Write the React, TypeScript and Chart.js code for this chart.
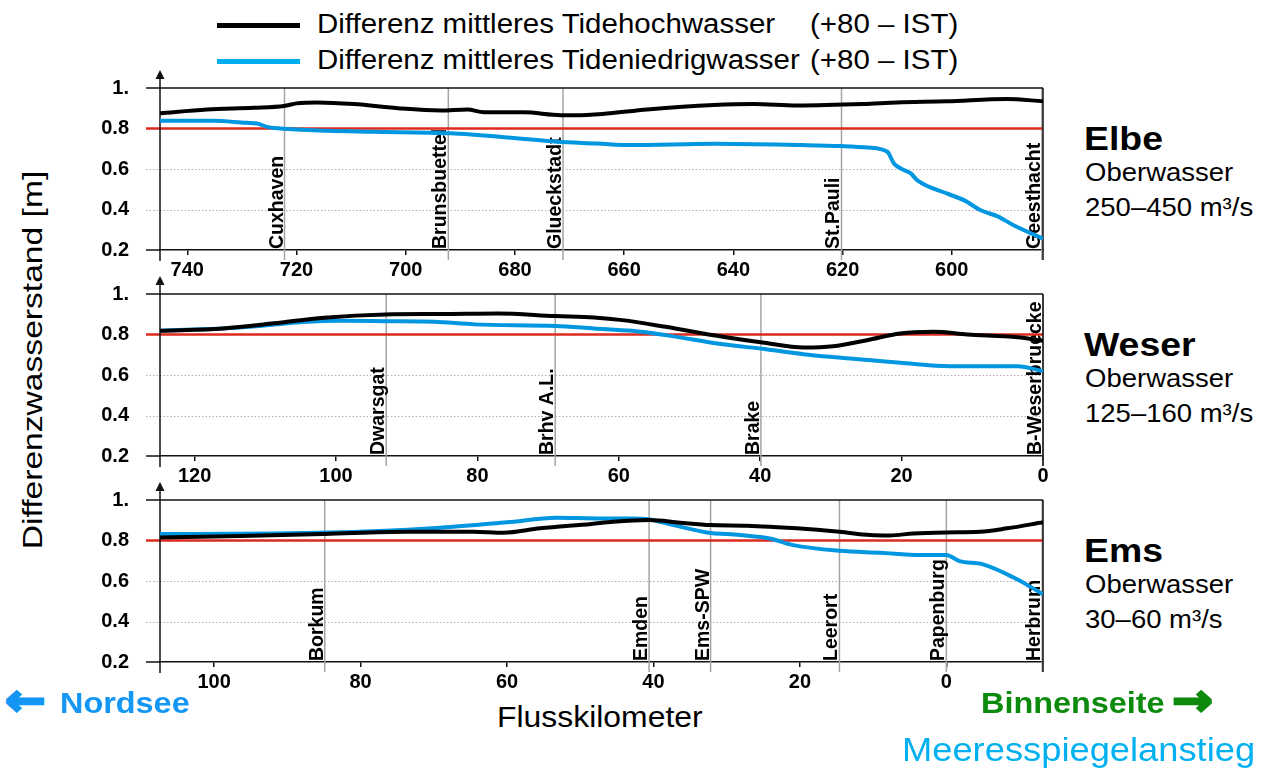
import React, { useEffect, useRef } from 'react';
import { Chart, registerables } from 'chart.js';

Chart.register(...registerables);

const FONT = '"Liberation Sans", Arial, Helvetica, sans-serif';
const ARROW_FONT = '"DejaVu Sans", "Liberation Sans", sans-serif';
const BLACK = '#000000';
const BLUE = '#0096e0';
const LEGEND_BLUE = '#00aeef';
const RED = '#dc2a1e';
const GRID_GREY = '#b0b0b0';
const STATION_GREY = '#a4a4a4';
const AXIS = '#111111';

// shared y axis: water level difference [m]
const yTicks = [0.2, 0.4, 0.6, 0.8, 1.0];
const dottedLevels = [0.4, 0.6];
const referenceLevel = 0.8;

// ---- Elbe (km 745 .. 583) ----
const elbeRange = [583.3, 745];
const elbeTicks = [740, 720, 700, 680, 660, 640, 620, 600];
const elbeStations = ['Cuxhaven', 'Brunsbuettel', 'Glueckstadt', 'St.Pauli', 'Geesthacht'];
const elbeStationKm = [722.2, 692.2, 671.2, 620.2, 583.5];
const elbeThwKm = [745, 736.4, 727.8, 722.3, 720, 716.2, 709.5, 701, 693.6, 688.7, 685.7, 678.4, 671.6, 669, 664, 655.8, 643.6, 636.3, 628.4, 616.2, 610, 600.9, 589.9, 583.3];
const elbeThw = [0.875, 0.894, 0.902, 0.911, 0.924, 0.929, 0.921, 0.899, 0.889, 0.894, 0.880, 0.880, 0.866, 0.866, 0.872, 0.894, 0.916, 0.921, 0.914, 0.921, 0.929, 0.934, 0.946, 0.934];
const elbeTnwKm = [745, 735.2, 729.1, 727.2, 725.4, 723, 714.4, 705.9, 691.8, 681.4, 672.3, 665, 658.8, 643.6, 627.3, 620.3, 615.4, 611.8, 610.6, 609.3, 607.5, 606.3, 600.8, 597.7, 594.7, 591.6, 588.6, 583.3];
const elbeTnw = [0.838, 0.838, 0.828, 0.825, 0.808, 0.800, 0.789, 0.784, 0.776, 0.756, 0.734, 0.726, 0.718, 0.725, 0.718, 0.713, 0.706, 0.685, 0.627, 0.602, 0.578, 0.544, 0.478, 0.445, 0.396, 0.366, 0.321, 0.256];

// ---- Weser (km 125 .. 0) ----
const weserRange = [0, 124.9];
const weserTicks = [120, 100, 80, 60, 40, 20, 0];
const weserStations = ['Dwarsgat', 'Brhv A.L.', 'Brake', 'B-Weserbruecke'];
const weserStationKm = [92.9, 69, 39.9, 0];
const weserThwKm = [124.9, 115.9, 108.8, 101.7, 93, 85.1, 77.1, 69, 63.5, 59.5, 53.4, 45.3, 39.4, 33.9, 29.7, 24.9, 20.2, 15.5, 10.7, 3.6, 0];
const weserThw = [0.818, 0.830, 0.855, 0.883, 0.899, 0.901, 0.904, 0.891, 0.884, 0.871, 0.838, 0.789, 0.759, 0.736, 0.742, 0.772, 0.805, 0.813, 0.800, 0.786, 0.769];
const weserTnwKm = [124.9, 113.6, 104.1, 99.3, 93, 86.1, 80.4, 69, 63.5, 58.1, 53.4, 45.3, 39.4, 33.9, 27.3, 20.2, 13.1, 3.6, 0];
const weserTnw = [0.818, 0.835, 0.863, 0.868, 0.866, 0.863, 0.850, 0.842, 0.830, 0.818, 0.797, 0.752, 0.728, 0.703, 0.681, 0.660, 0.643, 0.643, 0.619];

// ---- Ems (km 107 .. -13) ----
const emsRange = [-13.2, 107.4];
const emsTicks = [100, 80, 60, 40, 20, 0];
const emsStations = ['Borkum', 'Emden', 'Ems-SPW', 'Leerort', 'Papenburg', 'Herbrum'];
const emsStationKm = [84.9, 40.6, 32.2, 14.6, 0, -13.1];
const emsThwKm = [107.4, 96.4, 84.9, 73.7, 64.6, 60.5, 55.5, 48.5, 45.5, 40.5, 36.4, 32.2, 27.3, 20.4, 14.6, 10.4, 7.7, 4.5, 0, -4.6, -8.3, -13.2];
const emsThw = [0.815, 0.822, 0.832, 0.843, 0.843, 0.838, 0.860, 0.882, 0.893, 0.901, 0.888, 0.876, 0.873, 0.860, 0.843, 0.827, 0.825, 0.835, 0.840, 0.843, 0.860, 0.890];
const emsTnwKm = [107.4, 91.9, 78.2, 69.1, 60, 53.2, 47.3, 43.2, 40.5, 37.3, 32.7, 28.2, 24.1, 20.9, 14.6, 9.0, 3.6, 0, -1.8, -5.0, -9.2, -11.5, -13.2];
const emsTnw = [0.832, 0.835, 0.846, 0.863, 0.890, 0.912, 0.909, 0.909, 0.904, 0.876, 0.840, 0.827, 0.810, 0.777, 0.749, 0.739, 0.728, 0.728, 0.698, 0.682, 0.617, 0.571, 0.534];

type Panel = {
  top: number;
  range: number[];
  ticks: number[];
  stations: string[];
  stationKm: number[];
  thwKm: number[];
  thw: number[];
  tnwKm: number[];
  tnw: number[];
};

const panels: Panel[] = [
  { top: 65, range: elbeRange, ticks: elbeTicks, stations: elbeStations, stationKm: elbeStationKm, thwKm: elbeThwKm, thw: elbeThw, tnwKm: elbeTnwKm, tnw: elbeTnw },
  { top: 271, range: weserRange, ticks: weserTicks, stations: weserStations, stationKm: weserStationKm, thwKm: weserThwKm, thw: weserThw, tnwKm: weserTnwKm, tnw: weserTnw },
  { top: 477, range: emsRange, ticks: emsTicks, stations: emsStations, stationKm: emsStationKm, thwKm: emsThwKm, thw: emsThw, tnwKm: emsTnwKm, tnw: emsTnw },
];

// frame, reference line, dotted levels, gauge stations and the y axis arrow
const panelDecor = {
  id: 'panelDecor',
  beforeDatasetsDraw(chart: any, _args: any, opts: any) {
    const { ctx, chartArea } = chart;
    const { left, right, top, bottom } = chartArea;
    const xs = chart.scales.x;
    const ys = chart.scales.y;
    const ext = 14;
    const seg = (x1: number, y1: number, x2: number, y2: number) => {
      ctx.beginPath();
      ctx.moveTo(x1, y1);
      ctx.lineTo(x2, y2);
      ctx.stroke();
    };
    ctx.save();

    ctx.strokeStyle = GRID_GREY;
    ctx.lineWidth = 1;
    ctx.setLineDash([1.5, 2]);
    for (const v of dottedLevels) {
      const py = Math.round(ys.getPixelForValue(v)) + 0.5;
      seg(left - ext, py, right, py);
    }
    ctx.setLineDash([]);

    ctx.strokeStyle = STATION_GREY;
    ctx.lineWidth = 1.5;
    const names: string[] = opts.stations;
    const kms: number[] = opts.stationKm;
    names.forEach((_n, i) => {
      const px = xs.getPixelForValue(kms[i]);
      seg(px, top, px, bottom + 10);
    });

    ctx.fillStyle = '#000';
    ctx.font = `bold 19.5px ${FONT}`;
    ctx.textAlign = 'left';
    ctx.textBaseline = 'alphabetic';
    names.forEach((n, i) => {
      const px = Math.min(xs.getPixelForValue(kms[i]), right);
      ctx.save();
      ctx.translate(px - 2, bottom - 1);
      ctx.rotate(-Math.PI / 2);
      ctx.fillText(n, 0, 0);
      ctx.restore();
    });

    const ry = ys.getPixelForValue(referenceLevel);
    ctx.strokeStyle = RED;
    ctx.lineWidth = 2.5;
    seg(left - ext, ry, right, ry);

    ctx.strokeStyle = AXIS;
    ctx.lineWidth = 1.5;
    seg(left - ext, top, right, top);
    seg(left - ext, bottom, left, bottom);
    seg(right, top, right, bottom + 10);
    seg(left, top - 10, left, bottom + 11);

    ctx.fillStyle = AXIS;
    ctx.beginPath();
    ctx.moveTo(left, top - 18);
    ctx.lineTo(left - 4.5, top - 9);
    ctx.lineTo(left + 4.5, top - 9);
    ctx.closePath();
    ctx.fill();

    ctx.restore();
  },
};

function RiverPanel({ panel }: { panel: Panel }) {
  const ref = useRef<HTMLCanvasElement>(null);
  useEffect(() => {
    if (!ref.current) return;
    const chart = new Chart(ref.current, {
      type: 'line',
      data: {
        datasets: [
          {
            label: 'Differenz mittleres Tidehochwasser (+80 – IST)',
            data: panel.thwKm.map((x, i) => ({ x, y: panel.thw[i] })),
            borderColor: BLACK,
            borderWidth: 4,
            pointRadius: 0,
            cubicInterpolationMode: 'monotone',
          },
          {
            label: 'Differenz mittleres Tideniedrigwasser (+80 – IST)',
            data: panel.tnwKm.map((x, i) => ({ x, y: panel.tnw[i] })),
            borderColor: BLUE,
            borderWidth: 4,
            pointRadius: 0,
            cubicInterpolationMode: 'monotone',
          },
        ],
      },
      options: {
        animation: false,
        responsive: false,
        maintainAspectRatio: false,
        layout: { padding: { top: 23, right: 17, left: 0, bottom: 0 } },
        plugins: {
          legend: { display: false },
          tooltip: { enabled: false },
          panelDecor: { stations: panel.stations, stationKm: panel.stationKm },
        } as any,
        scales: {
          x: {
            type: 'linear',
            reverse: true,
            min: panel.range[0],
            max: panel.range[1],
            afterBuildTicks: (s: any) => {
              s.ticks = panel.ticks.map((v) => ({ value: v }));
            },
            afterFit: (s: any) => {
              s.height = 36;
              s.paddingLeft = 0;
              s.paddingRight = 0;
            },
            grid: { display: true, drawOnChartArea: false, drawTicks: true, tickLength: 5, color: AXIS, lineWidth: 1.5 },
            border: { display: true, color: AXIS, width: 1.5 },
            ticks: {
              padding: 3,
              maxRotation: 0,
              autoSkip: false,
              color: '#000',
              font: { family: FONT, size: 20, weight: 'bold' },
              callback: (v: any) => String(v),
            },
          },
          y: {
            type: 'linear',
            min: 0.2,
            max: 1.0,
            afterBuildTicks: (s: any) => {
              s.ticks = yTicks.map((v) => ({ value: v }));
            },
            afterFit: (s: any) => {
              s.width = 100;
              s.paddingTop = 0;
              s.paddingBottom = 0;
            },
            grid: { display: false, drawTicks: false },
            border: { display: false },
            ticks: {
              padding: 31,
              color: '#000',
              font: { family: FONT, size: 20, weight: 'bold' },
              callback: (v: any) => (Number(v) === 1 ? '1.' : Number(v).toFixed(1)),
            },
          },
        },
      } as any,
      plugins: [panelDecor],
    });
    return () => chart.destroy();
  }, [panel]);
  return (
    <canvas
      ref={ref}
      width={1000}
      height={221}
      style={{ position: 'absolute', left: 60, top: panel.top, width: 1000, height: 221 }}
    />
  );
}

type TxtProps = {
  x: number;
  y: number;
  size: number;
  bold?: boolean;
  color?: string;
  stretch?: number;
  family?: string;
  stroke?: number;
  children: React.ReactNode;
};

// text placed by its left edge and baseline
function Txt({ x, y, size, bold, color = '#000', stretch = 1.1, family = FONT, stroke = 0, children }: TxtProps) {
  return (
    <div
      style={{
        position: 'absolute',
        left: x,
        top: y - 0.85 * size,
        fontSize: size,
        lineHeight: 1,
        fontFamily: family,
        fontWeight: bold ? 700 : 400,
        color,
        whiteSpace: 'nowrap',
        transform: `scaleX(${stretch})`,
        transformOrigin: 'left top',
        WebkitTextStroke: stroke ? `${stroke}px ${color}` : undefined,
      }}
    >
      {children}
    </div>
  );
}

const riverNames = ['Elbe', 'Weser', 'Ems'];
const riverFlows = ['250–450 m³/s', '125–160 m³/s', '30–60 m³/s'];

export default function App() {
  return (
    <div
      style={{
        position: 'absolute',
        left: 0,
        top: 0,
        width: 1264,
        height: 769,
        background: '#ffffff',
        overflow: 'hidden',
        fontFamily: FONT,
      }}
    >
      {/* legend */}
      <div style={{ position: 'absolute', left: 217, top: 22.5, width: 83, height: 5, background: BLACK }} />
      <div style={{ position: 'absolute', left: 217, top: 58.5, width: 83, height: 5, background: LEGEND_BLUE }} />
      <Txt x={317} y={33.5} size={26.8}>Differenz mittleres Tidehochwasser</Txt>
      <Txt x={810} y={33.5} size={26.8}>(+80 – IST)</Txt>
      <Txt x={317} y={69.5} size={26.8}>Differenz mittleres Tideniedrigwasser</Txt>
      <Txt x={810} y={69.5} size={26.8}>(+80 – IST)</Txt>

      {/* y axis title */}
      <div
        style={{
          position: 'absolute',
          left: 33,
          top: 360,
          fontSize: 28,
          lineHeight: 1,
          whiteSpace: 'nowrap',
          color: '#000',
          transform: 'translate(-50%, -50%) rotate(-90deg) scaleX(1.2)',
          transformOrigin: 'center center',
        }}
      >
        Differenzwasserstand [m]
      </div>

      {panels.map((p, i) => (
        <RiverPanel key={i} panel={p} />
      ))}

      {/* river names and discharge */}
      {riverNames.map((name, i) => {
        const off = i * 206;
        return (
          <React.Fragment key={name}>
            <Txt x={1084} y={149.5 + off} size={34} bold>{name}</Txt>
            <Txt x={1085} y={181 + off} size={25}>Oberwasser</Txt>
            <Txt x={1085} y={216 + off} size={25}>{riverFlows[i]}</Txt>
          </React.Fragment>
        );
      })}

      {/* bottom annotations */}
      <Txt x={5} y={715} size={44} bold color="#1496f5" stretch={1.1} stroke={2.5} family={ARROW_FONT}>←</Txt>
      <Txt x={60} y={713} size={30} bold color="#1496f5" stretch={1.08}>Nordsee</Txt>
      <Txt x={981} y={713} size={30} bold color="#0c8a0c" stretch={1.08}>Binnenseite</Txt>
      <Txt x={1172} y={715} size={44} bold color="#0c8a0c" stretch={1.1} stroke={2.5} family={ARROW_FONT}>→</Txt>
      <Txt x={497} y={728} size={29}>Flusskilometer</Txt>
      <Txt x={902} y={761} size={33} color="#00b0f0">Meeresspiegelanstieg</Txt>
    </div>
  );
}
